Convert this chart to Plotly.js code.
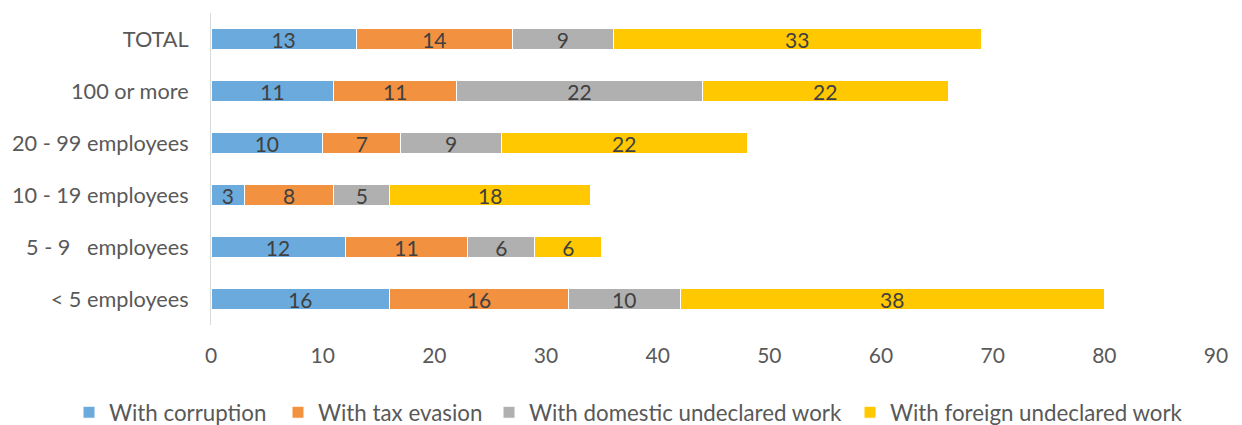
<!DOCTYPE html>
<html>
<head>
<meta charset="utf-8">
<script src="https://cdn.plot.ly/plotly-3.0.1.min.js"></script>
<style>html,body{margin:0;padding:0;background:#fff;}#chart{width:1242px;height:425px;}</style>
</head>
<body>
<div id="chart"></div>
<script>
var categories = ["< 5 employees", "5 - 9\u00a0\u00a0\u00a0employees", "10 - 19 employees", "20 - 99 employees", "100 or more", "TOTAL"];
var corruption = [16, 12, 3, 10, 11, 13];
var taxEvasion = [16, 11, 8, 7, 11, 14];
var domesticUndeclared = [10, 6, 5, 9, 22, 9];
var foreignUndeclared = [38, 6, 18, 22, 22, 33];
var seriesNames = ["With corruption", "With tax evasion", "With domestic undeclared work", "With foreign undeclared work"];
var seriesColors = ["#6aaadc", "#f29140", "#b0b0b0", "#ffc800"];
var xTicks = [0, 10, 20, 30, 40, 50, 60, 70, 80, 90];

var values = [corruption, taxEvasion, domesticUndeclared, foreignUndeclared];
var FONT = "Lato, 'Open Sans', sans-serif";
var legendIds = ["legend", "legend2", "legend3", "legend4"];
// legend text start (px from left of page) for each entry
var legendTextStart = [109, 318, 529, 890];

var traces = values.map(function (v, i) {
  return {
    type: "bar",
    orientation: "h",
    y: categories,
    x: v,
    name: seriesNames[i],
    legend: legendIds[i],
    text: v.map(String),
    textposition: "inside",
    insidetextanchor: "middle",
    textangle: 0,
    constraintext: "none",
    textfont: {family: FONT, size: 21, color: "#404040"},
    marker: {color: seriesColors[i], line: {color: "#ffffff", width: 1}},
    hoverinfo: "none"
  };
});

var layout = {
  width: 1242,
  height: 425,
  barmode: "stack",
  bargap: 0.58,
  paper_bgcolor: "#ffffff",
  plot_bgcolor: "#ffffff",
  margin: {l: 211, r: 26, t: 13, b: 100},
  font: {family: FONT, size: 21, color: "#595959"},
  xaxis: {
    range: [0, 90],
    tickvals: xTicks,
    ticktext: xTicks.map(String),
    showgrid: false,
    zeroline: false,
    showline: false,
    ticks: "",
    ticklabelstandoff: 16,
    tickfont: {family: FONT, size: 21, color: "#595959"},
    fixedrange: true
  },
  yaxis: {
    type: "category",
    categoryorder: "array",
    categoryarray: categories,
    showgrid: false,
    zeroline: false,
    showline: true,
    linecolor: "#d9d9d9",
    linewidth: 1,
    ticks: "",
    ticklabelstandoff: 17,
    tickfont: {family: FONT, size: 21.7, color: "#595959"},
    fixedrange: true
  },
  showlegend: true
};

legendIds.forEach(function (id, i) {
  layout[id] = {
    orientation: "h",
    xref: "container",
    yref: "container",
    x: (legendTextStart[i] - 40) / 1242,
    xanchor: "left",
    y: 0.03,
    yanchor: "middle",
    bgcolor: "rgba(0,0,0,0)",
    font: {family: FONT, size: 22.3, color: "#595959"},
    itemwidth: 30
  };
});

Plotly.newPlot("chart", traces, layout, {displayModeBar: false, staticPlot: true});
</script>
</body>
</html>
